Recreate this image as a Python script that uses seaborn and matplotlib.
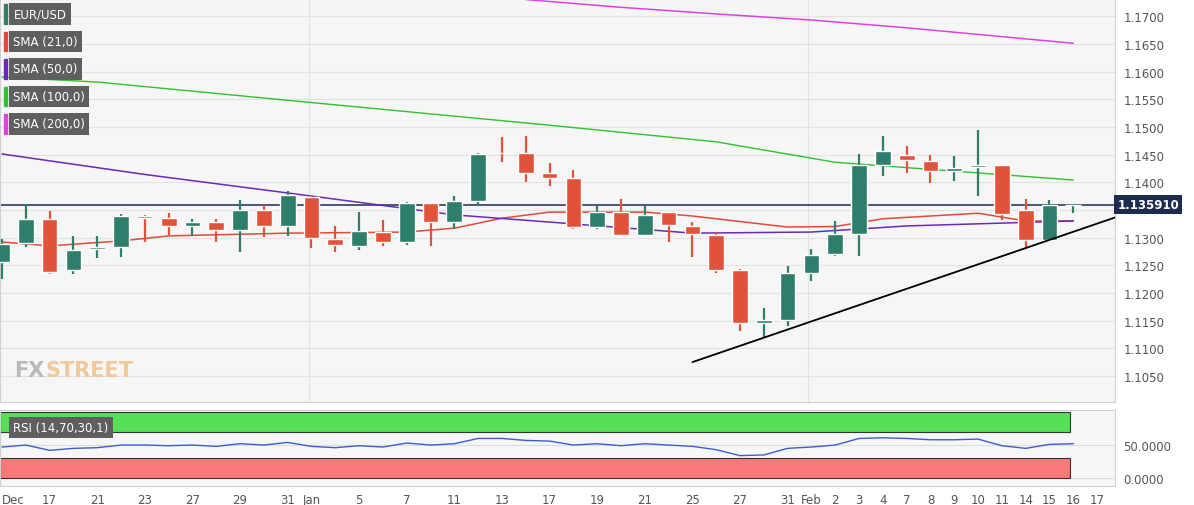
import numpy as np
import pandas as pd
import matplotlib
matplotlib.use("Agg")
import matplotlib.pyplot as plt
import seaborn as sns

# daily EUR/USD candles, Dec 15 -> Feb 16
opens = [1.1256, 1.1290, 1.1334, 1.1242, 1.1279, 1.1283, 1.1339, 1.1335, 1.1321, 1.1328,
         1.1314, 1.1350, 1.1321, 1.1373, 1.1297, 1.1285, 1.1310, 1.1292, 1.1362, 1.1328,
         1.1366, 1.1453, 1.1453, 1.1417, 1.1408, 1.1319, 1.1346, 1.1305, 1.1346, 1.1321,
         1.1305, 1.1242, 1.1146, 1.1151, 1.1236, 1.1270, 1.1307, 1.1431, 1.1449, 1.1438,
         1.1420, 1.1427, 1.1431, 1.1350, 1.1296, 1.1358]
closes = [1.1288, 1.1334, 1.1238, 1.1278, 1.1283, 1.1339, 1.1335, 1.1321, 1.1328, 1.1314,
          1.1350, 1.1321, 1.1377, 1.1299, 1.1287, 1.1312, 1.1292, 1.1362, 1.1328, 1.1366,
          1.1451, 1.1452, 1.1417, 1.1408, 1.1319, 1.1346, 1.1305, 1.1341, 1.1323, 1.1307,
          1.1242, 1.1146, 1.1151, 1.1236, 1.1269, 1.1307, 1.1431, 1.1456, 1.1440, 1.1420,
          1.1426, 1.1431, 1.1343, 1.1296, 1.1359, 1.13591]
highs = [1.1297, 1.1361, 1.1348, 1.1303, 1.1303, 1.1343, 1.1341, 1.1344, 1.1334, 1.1334,
         1.1368, 1.1359, 1.1384, 1.1377, 1.1321, 1.1346, 1.1332, 1.1364, 1.1363, 1.1375,
         1.1453, 1.1482, 1.1483, 1.1435, 1.1422, 1.1357, 1.1370, 1.1359, 1.1347, 1.1328,
         1.1310, 1.1243, 1.1173, 1.1249, 1.1279, 1.1330, 1.1451, 1.1483, 1.1465, 1.1449,
         1.1447, 1.1494, 1.1431, 1.1370, 1.1368, 1.1361]
lows = [1.1225, 1.1283, 1.1235, 1.1234, 1.1263, 1.1265, 1.1292, 1.1305, 1.1303, 1.1292,
        1.1274, 1.1301, 1.1303, 1.1281, 1.1274, 1.1278, 1.1285, 1.1287, 1.1285, 1.1316,
        1.1357, 1.1436, 1.1400, 1.1393, 1.1316, 1.1316, 1.1304, 1.1303, 1.1292, 1.1265,
        1.1236, 1.1131, 1.1121, 1.1140, 1.1222, 1.1267, 1.1267, 1.1411, 1.1417, 1.1399,
        1.1402, 1.1375, 1.1332, 1.1279, 1.1296, 1.1344]

sma21_x = [0, 2, 5, 7, 12, 17, 19, 21, 23, 27, 29, 33, 35, 37, 41, 43, 45]
sma21_y = [1.1292, 1.1285, 1.1294, 1.1303, 1.1308, 1.1310, 1.1317, 1.1335, 1.1346, 1.1346,
           1.1339, 1.1319, 1.1320, 1.1334, 1.1344, 1.1330, 1.1330]
sma50_x = [0, 6, 13, 19, 23, 29, 34, 38, 45]
sma50_y = [1.1451, 1.1414, 1.1375, 1.1341, 1.1328, 1.1308, 1.1310, 1.1321, 1.1330]
sma100_x = [0, 4, 12, 23, 30, 35, 40, 45]
sma100_y = [1.1590, 1.1581, 1.1548, 1.1503, 1.1473, 1.1436, 1.1420, 1.1404]
sma200_x = [22, 26, 30, 34, 38, 42, 45]
sma200_y = [1.1730, 1.1716, 1.1704, 1.1693, 1.1679, 1.1663, 1.1651]

trend_x = [29, 46.8]
trend_y = [1.1075, 1.1337]
last_price = 1.13591

rsi = [47, 50, 42, 45, 46, 50, 50, 49, 50, 48, 52, 50, 54, 48, 46, 49, 47, 53, 50, 52,
       60, 60, 57, 56, 50, 52, 49, 52, 50, 48, 43, 34, 35, 45, 47, 50, 60, 61, 60, 58,
       58, 59, 49, 45, 51, 52]

tick_pos = [0, 2, 4, 6, 8, 10, 12, 13, 15, 17, 19, 21, 23, 25, 27, 29, 31, 33, 34, 35,
            36, 37, 38, 39, 40, 41, 42, 43, 44, 45, 46]
tick_lab = ["Dec", "17", "21", "23", "27", "29", "31", "Jan", "5", "7", "11", "13", "17",
            "19", "21", "25", "27", "31", "Feb", "2", "3", "4", "7", "8", "9", "10", "11",
            "14", "15", "16", "17"]

sns.set_style("white")
plt.rcParams["font.family"] = ["DejaVu Sans"]
bg = "#f6f6f6"
green, red = "#2f7d6b", "#e0533a"

fig = plt.figure(figsize=(11.94, 5.06), dpi=100)
ax = fig.add_axes([0, 0.2036, 0.934, 0.7964])
ax2 = fig.add_axes([0, 0.0375, 0.934, 0.1502], sharex=ax)
for a in (ax, ax2):
    a.set_facecolor(bg)
    for s in a.spines.values():
        s.set_color("#d0d0d0")

df = pd.DataFrame({"o": opens, "c": closes, "h": highs, "l": lows})
df["i"] = np.arange(len(df))
cols = [green if c >= o else red for o, c in zip(df.o, df.c)]
ax.vlines(df.i, df.l, df.h, colors=cols, lw=1.6, zorder=3)
bottom = np.minimum(df.o, df.c)
height = np.maximum(np.abs(df.c - df.o), 0.00008)
ax.bar(df.i, height, bottom=bottom, width=0.66, color=cols, zorder=4)

sns.lineplot(x=sma21_x, y=sma21_y, ax=ax, color="#e2493a", lw=1.1, zorder=2)
sns.lineplot(x=sma50_x, y=sma50_y, ax=ax, color="#6a2ab5", lw=1.1, zorder=2)
sns.lineplot(x=sma100_x, y=sma100_y, ax=ax, color="#2fc12f", lw=1.0, zorder=2)
sns.lineplot(x=sma200_x, y=sma200_y, ax=ax, color="#e040e0", lw=1.1, zorder=2)
sns.lineplot(x=trend_x, y=trend_y, ax=ax, color="black", lw=1.3, zorder=5)
ax.axhline(last_price, color="#1d2b4f", lw=1.1, zorder=1)

yt = np.round(np.arange(1.105, 1.1701, 0.005), 4)
ax.set_ylim(1.1003, 1.1731)
ax.set_xlim(-0.084, 46.76)
ax.set_yticks(yt)
ax.set_yticklabels(["" if abs(v - 1.135) < 1e-6 else f"{v:.4f}" for v in yt])
ax.yaxis.tick_right()
ax.tick_params(axis="y", labelsize=8.5, colors="#555555", length=0, pad=6)
ax.tick_params(axis="x", labelbottom=False, length=0)
ax.grid(axis="y", color="#e2e2e2", lw=0.8)
for xv in [12.9, 33.85]:
    ax.axvline(xv, color="#e2e2e2", lw=0.8, zorder=0)

ax.text(1.002, (last_price - 1.1003) / (1.1731 - 1.1003), "1.135910", transform=ax.transAxes,
        va="center", ha="left", fontsize=8.5, color="white", fontweight="bold",
        bbox=dict(boxstyle="square,pad=0.25", fc="#1d2b4f", ec="none"), clip_on=False)

legend_items = [("EUR/USD", "#2f7d6b"), ("SMA (21,0)", "#e2493a"), ("SMA (50,0)", "#6a2ab5"),
                ("SMA (100,0)", "#2fc12f"), ("SMA (200,0)", "#e040e0")]
for k, (lab, c) in enumerate(legend_items):
    y = 1 - (15 + 27.5 * k) / 403
    ax.text(0.012, y, lab, transform=ax.transAxes, va="center", ha="left", fontsize=8.5,
            color="white", bbox=dict(boxstyle="square,pad=0.35", fc="#5f5f5f", ec="none"), zorder=10)
    ax.add_patch(plt.Rectangle((0.004, y - 0.024), 0.0025, 0.048, transform=ax.transAxes,
                               color=c, zorder=11))

ax.text(0.013, 0.08, "FX", transform=ax.transAxes, fontsize=15, color="#b9b9b9",
        fontweight="bold", va="center")
ax.text(0.041, 0.08, "STREET", transform=ax.transAxes, fontsize=15, color="#f2c79a",
        fontweight="bold", va="center")

# RSI pane
fill_end = 1070 / 1115
ax2.axhspan(70, 100, xmin=0, xmax=fill_end, color="#55e055", ec="#333333", lw=0.8)
ax2.axhspan(0, 30, xmin=0, xmax=fill_end, color="#f77a78", ec="#333333", lw=0.8)
sns.lineplot(x=np.arange(len(rsi)), y=rsi, ax=ax2, color="#3a5fcd", lw=1.0)
ax2.set_ylim(-12, 103)
ax2.set_yticks([0, 50])
ax2.set_yticklabels(["0.0000", "50.0000"])
ax2.yaxis.tick_right()
ax2.tick_params(axis="y", labelsize=8.5, colors="#555555", length=0, pad=6)
ax2.grid(axis="y", color="#dddddd", lw=0.8)
ax2.text(0.012, 0.77, "RSI (14,70,30,1)", transform=ax2.transAxes, fontsize=8.5, color="white",
         va="center", bbox=dict(boxstyle="square,pad=0.35", fc="#5f5f5f", ec="none"), zorder=10)
ax2.set_xticks(tick_pos)
ax2.set_xticklabels(tick_lab)
ax2.get_xticklabels()[0].set_ha("left")
ax2.tick_params(axis="x", labelsize=8.5, colors="#555555", length=3, pad=2)
ax2.set_xlabel("")
ax.set_xlabel("")

fig.savefig("out.png", dpi=100, facecolor="white")
